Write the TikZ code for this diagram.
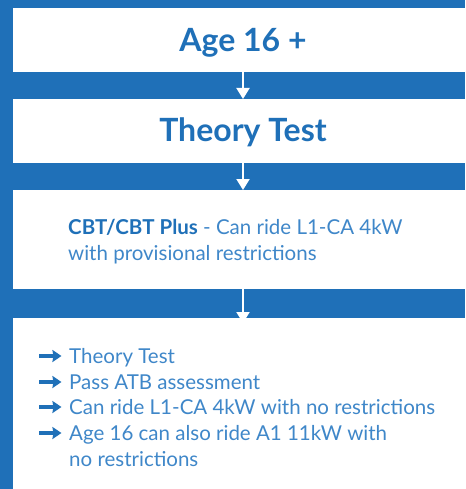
\documentclass[tikz,border=0pt]{standalone}
\usepackage{fontspec}
\setmainfont{Lato}
\usetikzlibrary{arrows.meta}
\definecolor{bgblue}{HTML}{1F70B8}
\definecolor{txtblue}{HTML}{3F87C9}
\newcommand{\bularrow}{\tikz[baseline=-7pt]\draw[bgblue,line width=4.5pt,-{Stealth[inset=1pt,length=9pt,width=12pt]}] (0,0) -- (22pt,0);}
\begin{document}
\begin{tikzpicture}[x=1pt,y=-1pt,
  whitebox/.style={fill=white,draw=none,minimum width=460pt,inner sep=0pt,anchor=north},
  title/.style={font=\fontsize{32}{36}\selectfont\bfseries,text=bgblue,anchor=base},
  body/.style={font=\fontsize{20.5}{25.7}\selectfont,text=txtblue,anchor=base west,inner sep=0pt},
  bullet/.style={anchor=base west,inner sep=0pt},
  flow/.style={white,line width=2pt,-{Triangle[width=13pt,length=11pt]}}]
\fill[bgblue] (0,0) rectangle (465,489);
\useasboundingbox (0,0) rectangle (465,489);
\node[whitebox,minimum height=64pt] (b1) at (243,8) {};
\node[whitebox,minimum height=64pt] (b2) at (243,99) {};
\node[whitebox,minimum height=99pt] (b3) at (243,190) {};
\node[whitebox,minimum height=180pt] (b4) at (243,318) {};
\node[title] (t1) at (243,52) {Age 16 +};
\node[title] (t2) at (243,142) {Theory Test};
\node[body] (c1) at (68,234) {\textbf{\color{bgblue}CBT/CBT Plus} - Can ride L1-CA 4kW};
\node[body] (c2) at (68,260) {with provisional restrictions};
\node[bullet] (a1) at (37,363) {\bularrow};
\node[body] (l1) at (69,363) {Theory Test};
\node[bullet] (a2) at (37,389) {\bularrow};
\node[body] (l2) at (69,389) {Pass ATB assessment};
\node[bullet] (a3) at (37,414) {\bularrow};
\node[body] (l3) at (69,414) {Can ride L1-CA 4kW with no restrictions};
\node[bullet] (a4) at (37,440) {\bularrow};
\node[body] (l4) at (69,440) {Age 16 can also ride A1 11kW with};
\node[body] (l5) at (69,466) {no restrictions};
\draw[flow] (b1.south) -- (b2.north);
\draw[flow] (b2.south) -- (b3.north);
\draw[flow] (b3.south) -- ([yshift=-5pt]b4.north);
\end{tikzpicture}
\end{document}
